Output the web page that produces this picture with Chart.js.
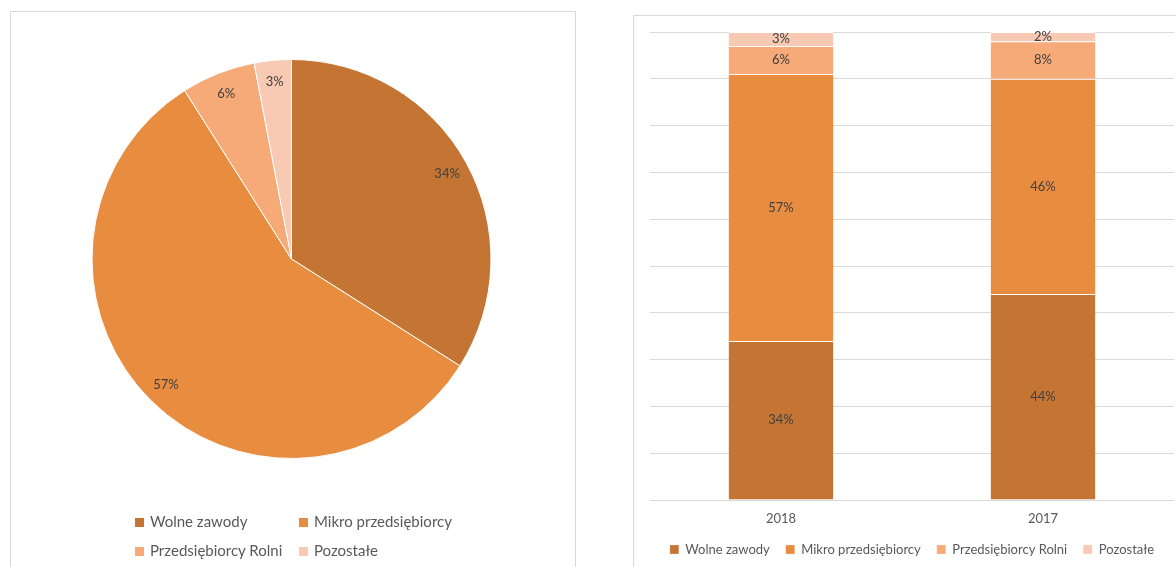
<!DOCTYPE html>
<html>
<head>
<meta charset="utf-8">
<script src="https://cdn.jsdelivr.net/npm/chart.js@4"></script>
<style>
  html, body { margin: 0; padding: 0; background: #fff; width: 1176px; height: 567px; overflow: hidden; }
  .box { position: absolute; border: 1px solid #d9d9d9; background: #fff; }
  #pieBox { left: 10px; top: 11px; width: 564px; height: 570px; }
  #barBox { left: 633px; top: 15px; width: 570px; height: 570px; }
  #pieCanvasWrap { position: absolute; left: 0; top: 0; width: 564px; height: 556px; }
  #barCanvasWrap { position: absolute; left: 0; top: 0; width: 542px; height: 551px; }
  #pieLegend { position: absolute; left: 124px; top: 495px; width: 330px;
    font: 15px Lato, sans-serif; color: #595959; }
  #pieLegend .item { display: inline-block; width: 164px; height: 29px; line-height: 29px; white-space: nowrap; }
  #pieLegend .sw { display: inline-block; width: 9px; height: 9px; margin-right: 6px; vertical-align: 0px; }
</style>
</head>
<body>
<div class="box" id="pieBox">
  <div id="pieCanvasWrap"><canvas id="pieChart"></canvas></div>
  <div id="pieLegend"></div>
</div>
<div class="box" id="barBox">
  <div id="barCanvasWrap"><canvas id="barChart"></canvas></div>
</div>
<script>
// Data
var categories = ['Wolne zawody', 'Mikro przedsiębiorcy', 'Przedsiębiorcy Rolni', 'Pozostałe'];
var colors = ['#C47533', '#E88C40', '#F6AA78', '#F8CAB4'];
var pieValues = [34, 57, 6, 3];
var years = ['2018', '2017'];
var wolneValues = [34, 44];
var mikroValues = [57, 46];
var rolniValues = [6, 8];
var pozostaleValues = [3, 2];

var textColor = '#404040';
var legendColor = '#595959';
var fontFamily = 'Lato, sans-serif';

// Percent labels drawn on each slice / bar segment
var valueLabels = {
  id: 'valueLabels',
  afterDatasetsDraw: function(chart) {
    var ctx = chart.ctx;
    ctx.save();
    ctx.font = '13px ' + fontFamily;
    ctx.fillStyle = textColor;
    ctx.textAlign = 'center';
    ctx.textBaseline = 'middle';
    chart.data.datasets.forEach(function(ds, i) {
      chart.getDatasetMeta(i).data.forEach(function(el, j) {
        var x, y;
        if (chart.config.type === 'pie') {
          var p = el.getProps(['x', 'y', 'startAngle', 'endAngle', 'outerRadius'], true);
          var mid = (p.startAngle + p.endAngle) / 2;
          var r = p.outerRadius * 0.89;
          x = p.x + Math.cos(mid) * r;
          y = p.y + Math.sin(mid) * r;
        } else {
          var b = el.getProps(['x', 'y', 'base'], true);
          x = b.x;
          y = (b.y + b.base) / 2;
        }
        ctx.fillText(ds.data[j] + '%', x, y);
      });
    });
    ctx.restore();
  }
};

// Pie chart
var pieChart = new Chart(document.getElementById('pieChart'), {
  type: 'pie',
  data: {
    labels: categories,
    datasets: [{
      data: pieValues,
      backgroundColor: colors,
      borderColor: '#ffffff',
      borderWidth: 1
    }]
  },
  options: {
    responsive: true,
    maintainAspectRatio: false,
    animation: false,
    layout: { padding: { top: 47, bottom: 109, left: 0, right: 3 } },
    plugins: {
      legend: { display: false },
      tooltip: { enabled: false }
    }
  },
  plugins: [valueLabels]
});

// HTML legend for the pie (two columns, two rows)
var legendBox = document.getElementById('pieLegend');
categories.forEach(function(name, i) {
  var item = document.createElement('span');
  item.className = 'item';
  var sw = document.createElement('span');
  sw.className = 'sw';
  sw.style.background = colors[i];
  item.appendChild(sw);
  item.appendChild(document.createTextNode(name));
  legendBox.appendChild(item);
});

// Stacked bar chart
var seriesValues = [wolneValues, mikroValues, rolniValues, pozostaleValues];
var barChart = new Chart(document.getElementById('barChart'), {
  type: 'bar',
  data: {
    labels: years,
    datasets: categories.map(function(name, i) {
      return {
        label: name,
        data: seriesValues[i],
        backgroundColor: colors[i],
        borderColor: '#ffffff',
        borderWidth: { top: 1 },
        categoryPercentage: 0.4,
        barPercentage: 1
      };
    })
  },
  options: {
    responsive: true,
    maintainAspectRatio: false,
    animation: false,
    layout: { padding: { top: 16, left: 16, right: 2, bottom: 1 } },
    scales: {
      x: {
        stacked: true,
        grid: { display: false, drawTicks: false },
        border: { display: false },
        ticks: { color: legendColor, font: { family: fontFamily, size: 13 }, padding: 11 },
        // keep the axis band short so the legend sits close under the year labels
        afterFit: function(scale) { scale.height = 27; }
      },
      y: {
        stacked: true,
        min: 0,
        max: 100,
        ticks: { display: false, stepSize: 10 },
        grid: { color: '#d9d9d9', drawTicks: false },
        border: { display: false }
      }
    },
    plugins: {
      legend: {
        position: 'bottom',
        labels: {
          boxWidth: 9,
          boxHeight: 9,
          padding: 16,
          color: legendColor,
          font: { family: fontFamily, size: 13 }
        }
      },
      tooltip: { enabled: false }
    }
  },
  plugins: [valueLabels]
});
</script>
</body>
</html>
